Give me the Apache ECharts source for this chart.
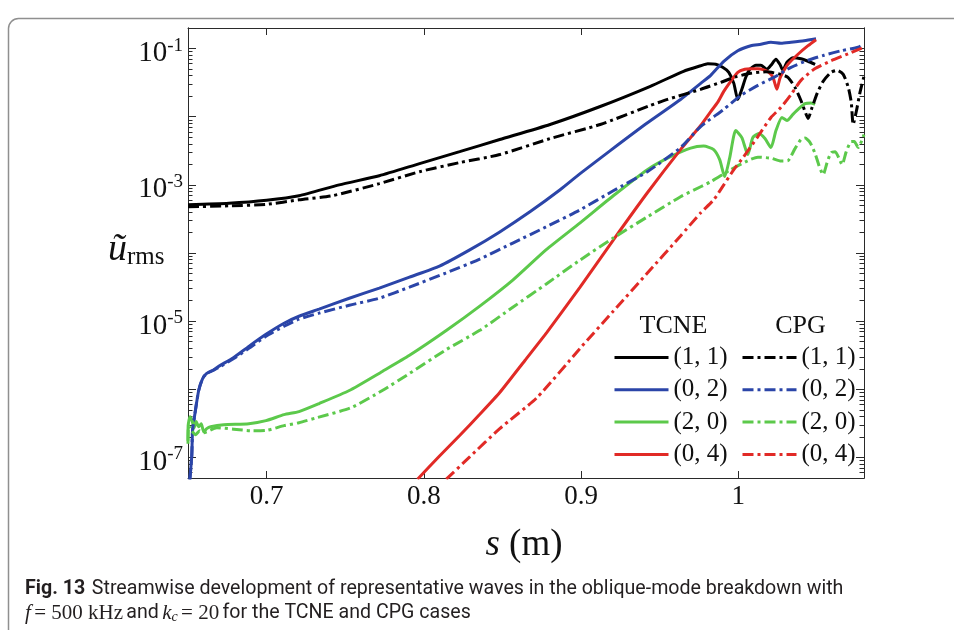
<!DOCTYPE html>
<html><head><meta charset="utf-8">
<script src="https://cdn.jsdelivr.net/npm/echarts@6/dist/echarts.min.js"></script>
<style>html,body{margin:0;padding:0;background:#fff}#c{width:954px;height:630px}</style>
</head><body><div id="c"></div>
<script>
// ---------- data (s in m, u_rms) ----------
const sTcne11 = [0.65,0.676,0.700,0.7206,0.7462,0.7717,0.7973,0.8228,0.8483,0.8803,0.9122,0.9441,0.9652,0.9761,0.9806,0.9857,0.9901,0.9940,0.9972,0.9997,1.0023,1.0048,1.0074,1.0112,1.0144,1.0182,1.0208,1.0240,1.0265,1.0284,1.0310,1.0348,1.0399,1.0444,1.0489];
const uTcne11 = [5.09e-4,5.36e-4,5.93e-4,6.91e-4,1.0e-3,1.36e-3,2.05e-3,3.07e-3,4.62e-3,7.68e-3,1.41e-2,2.79e-2,4.63e-2,5.58e-2,5.97e-2,5.87e-2,5.30e-2,4.48e-2,3.08e-2,1.79e-2,2.52e-2,3.78e-2,4.96e-2,5.68e-2,5.68e-2,4.96e-2,5.68e-2,6.96e-2,5.87e-2,4.79e-2,6.28e-2,7.32e-2,7.08e-2,6.50e-2,5.87e-2];

const sCpg11 = [0.65,0.676,0.700,0.7206,0.7417,0.7717,0.7973,0.8228,0.8483,0.8803,0.9122,0.9441,0.955,0.9761,0.9889,0.9984,1.0080,1.0176,1.0259,1.0316,1.0361,1.0399,1.0425,1.0444,1.0470,1.0502,1.0540,1.0591,1.0629,1.0668,1.0700,1.0719,1.0731,1.0751,1.0776,1.08];
const uCpg11 = [4.76e-4,4.92e-4,5.18e-4,6.03e-4,6.91e-4,1.04e-3,1.56e-3,2.12e-3,2.78e-3,4.77e-3,7.68e-3,1.46e-2,1.79e-2,2.52e-2,3.19e-2,3.84e-2,4.33e-2,4.55e-2,4.25e-2,3.78e-2,2.69e-2,1.73e-2,1.19e-2,9.41e-3,1.37e-2,2.20e-2,3.30e-2,4.48e-2,4.79e-2,4.18e-2,2.69e-2,1.62e-2,7.68e-3,1.19e-2,2.35e-2,3.91e-2];

const sTcne02 = [0.65,0.6512,0.6524,0.6529,0.6545,0.6568,0.6593,0.6619,0.6657,0.6695,0.6791,0.6887,0.6996,0.7111,0.7206,0.7334,0.7526,0.7717,0.7909,0.8100,0.8292,0.8483,0.8675,0.8867,0.8994,0.9186,0.9416,0.9633,0.9761,0.9825,0.9908,0.9997,1.0080,1.0144,1.0208,1.0272,1.0336,1.0419,1.0495];
const uTcne02 = [2.3e-8,4.85e-8,1.06e-7,2.47e-7,4.55e-7,9.6e-7,1.44e-6,1.71e-6,1.89e-6,2.17e-6,2.94e-6,4.27e-6,6.41e-6,9.31e-6,1.18e-5,1.50e-5,2.17e-5,3.05e-5,4.43e-5,6.43e-5,1.11e-4,2.04e-4,4.02e-4,8.47e-4,1.46e-3,3.18e-3,7.94e-3,1.79e-2,3.08e-2,4.04e-2,6.50e-2,9.28e-2,0.110,0.1157,0.1238,0.1197,0.1238,0.1302,0.1394];

const sCpg02 = [0.65,0.6512,0.6524,0.6529,0.6545,0.6568,0.6593,0.6619,0.6657,0.6695,0.6791,0.6887,0.6996,0.7111,0.7206,0.7334,0.7526,0.7717,0.7909,0.8139,0.8356,0.8566,0.8777,0.8994,0.9205,0.9422,0.9633,0.9761,0.9908,1.0016,1.0125,1.0227,1.0336,1.0444,1.0546,1.0655,1.0763,1.08];
const uCpg02 = [2.3e-8,4.85e-8,1.06e-7,2.47e-7,4.55e-7,9.6e-7,1.44e-6,1.71e-6,1.89e-6,2.09e-6,2.84e-6,3.99e-6,5.99e-6,8.41e-6,1.07e-5,1.31e-5,1.71e-5,2.17e-5,3.16e-5,5.07e-5,8.16e-5,1.40e-4,2.41e-4,4.30e-4,8.18e-4,1.56e-3,3.52e-3,7.17e-3,1.28e-2,2.05e-2,2.88e-2,3.78e-2,5.30e-2,6.73e-2,7.97e-2,9.28e-2,0.1045,0.1157];

const sTcne20 = [0.65,0.6501,0.6513,0.6526,0.6539,0.6552,0.6568,0.6584,0.6600,0.6619,0.6644,0.6727,0.6887,0.6996,0.7111,0.7206,0.7334,0.7526,0.7736,0.7909,0.8145,0.8356,0.8566,0.8777,0.8994,0.9205,0.9422,0.9569,0.9697,0.9780,0.9844,0.9882,0.9914,0.9946,0.9984,1.0023,1.0061,1.0093,1.0131,1.0170,1.0208,1.0240,1.0278,1.0310,1.0348,1.0387,1.0425,1.0463,1.0489];
const uTcne20 = [1.59e-7,2.93e-7,3.97e-7,3.47e-7,2.74e-7,3.36e-7,2.83e-7,3.13e-7,2.39e-7,2.65e-7,2.83e-7,3.03e-7,3.13e-7,3.47e-7,4.25e-7,4.71e-7,6.18e-7,9.60e-7,1.83e-6,3.15e-6,7.34e-6,1.66e-5,4.00e-5,1.11e-4,2.77e-4,6.91e-4,1.67e-3,2.59e-3,3.46e-3,3.70e-3,3.29e-3,2.34e-3,1.32e-3,2.51e-3,6.26e-3,4.94e-3,2.78e-3,4.94e-3,5.65e-3,4.77e-3,3.52e-3,6.26e-3,9.73e-3,8.79e-3,1.08e-2,1.32e-2,1.56e-2,1.59e-2,1.51e-2];

const sCpg20 = [0.65,0.6504,0.6523,0.6549,0.6574,0.6600,0.6683,0.6791,0.6900,0.7002,0.7111,0.7206,0.7321,0.7538,0.7736,0.7909,0.8145,0.8356,0.8566,0.8777,0.8994,0.9205,0.9422,0.9633,0.9761,0.9825,0.9952,1.0061,1.0125,1.0208,1.0272,1.0316,1.0361,1.0399,1.0425,1.0457,1.0489,1.0514,1.0540,1.0565,1.0591,1.0617,1.0642,1.0661,1.0687,1.0719,1.0738,1.0763,1.08];
const uCpg20 = [1.76e-7,2.93e-7,2.47e-7,2.16e-7,2.47e-7,2.31e-7,2.74e-7,2.60e-7,2.47e-7,2.51e-7,2.93e-7,3.24e-7,3.84e-7,5.39e-7,9.60e-7,1.71e-6,3.85e-6,7.34e-6,1.60e-5,3.49e-5,7.88e-5,1.66e-4,3.39e-4,6.68e-4,9.37e-4,1.11e-3,1.67e-3,2.26e-3,2.55e-3,2.46e-3,2.23e-3,2.26e-3,3.40e-3,4.62e-3,4.86e-3,4.17e-3,2.87e-3,1.91e-3,1.41e-3,2.12e-3,2.97e-3,3.07e-3,2.42e-3,1.98e-3,3.07e-3,4.31e-3,4.31e-3,3.52e-3,5.47e-3];

const sTcne04 = [0.7960,0.8100,0.8228,0.8356,0.8483,0.8643,0.8784,0.8994,0.9205,0.9422,0.9633,0.9761,0.9825,0.9869,0.9908,0.9952,0.9997,1.0042,1.0080,1.0125,1.0163,1.0195,1.0221,1.0246,1.0265,1.0291,1.0316,1.0380,1.0444,1.0495];
const uTcne04 = [4.80e-8,1.05e-7,2.10e-7,4.30e-7,8.97e-7,2.65e-6,6.90e-6,3.16e-5,1.55e-4,7.65e-4,3.29e-3,7.42e-3,1.19e-2,1.62e-2,2.35e-2,3.30e-2,4.48e-2,4.96e-2,5.04e-2,5.04e-2,4.87e-2,4.48e-2,3.78e-2,2.52e-2,3.65e-2,4.79e-2,5.87e-2,8.24e-2,0.110,0.1348];

const sCpg04 = [0.8143,0.8292,0.8483,0.8720,0.8994,0.9205,0.9422,0.9633,0.9761,0.9844,0.9908,0.9972,1.0035,1.0125,1.0208,1.0272,1.0336,1.0399,1.0482,1.0591,1.0700,1.08];
const uCpg04 = [4.80e-8,1.02e-7,2.65e-7,7.57e-7,3.99e-6,1.40e-5,5.07e-5,1.78e-4,3.88e-4,6.03e-4,1.00e-3,1.67e-3,2.59e-3,5.11e-3,9.73e-3,1.37e-2,2.12e-2,3.41e-2,4.96e-2,6.61e-2,8.38e-2,0.1045];

const modeLabels = ['(1, 1)', '(0, 2)', '(2, 0)', '(0, 4)'];
const modeColors = ['#000000', '#2b45a8', '#5cc94b', '#e12a26'];
const xTickValues = [0.7, 0.8, 0.9, 1.0];
const yLabelValues = [1e-7, 1e-5, 1e-3, 1e-1];
const yMajorTicks = [1e-7, 1e-6, 1e-5, 1e-4, 1e-3, 1e-2, 1e-1];
const xRange = [0.65, 1.08];
const yRange = [5e-8, 0.2];

// ---------- build ----------
const tcne = [[sTcne11,uTcne11],[sTcne02,uTcne02],[sTcne20,uTcne20],[sTcne04,uTcne04]];
const cpg  = [[sCpg11,uCpg11],[sCpg02,uCpg02],[sCpg20,uCpg20],[sCpg04,uCpg04]];
const pair = (s,u) => s.map((x,i)=>[x,u[i]]);
const yMinorTicks = [];
for (let k=-8;k<=-1;k++) for (let m=2;m<=9;m++){ const v=m*Math.pow(10,k); if (v>yRange[0] && v<yRange[1]) yMinorTicks.push(v); }

const series = [];
const dashDot = [11,4,3,4];
tcne.forEach((d,i)=>series.push({name:'TCNE '+modeLabels[i], type:'line', data:pair(d[0],d[1]), symbol:'none', smooth:0.2, lineStyle:{color:modeColors[i], width:3, type:'solid'}, itemStyle:{color:modeColors[i]}, z:3, animation:false}));
cpg.forEach((d,i)=>series.push({name:'CPG '+modeLabels[i], type:'line', data:pair(d[0],d[1]), symbol:'none', smooth:0.2, lineStyle:{color:modeColors[i], width:3, type:dashDot, cap:'butt'}, itemStyle:{color:modeColors[i]}, z:4, animation:false}));

const axisCol = '#2a2a2a';
const serif = 'Liberation Serif';
function yAx(pos, ticks, len, labels){
  return {type:'log', logBase:10, min:yRange[0], max:yRange[1], position:pos, gridIndex:0,
    axisLine:{show:true, lineStyle:{color:axisCol, width:1}},
    axisTick:{show:true, inside:true, length:len, customValues:ticks, lineStyle:{color:axisCol, width:1}},
    minorTick:{show:false}, splitLine:{show:false},
    axisLabel: labels ? {show:true, customValues:yLabelValues, margin:5,
      formatter:(v)=>'{b|10}{s|'+Math.round(Math.log10(v))+'}',
      rich:{b:{fontFamily:serif, fontSize:29, color:'#111', padding:[10,0,0,0]}, s:{fontFamily:serif, fontSize:19, color:'#111', padding:[0,0,6,0]}}} : {show:false}
  };
}
function xAx(pos, labels){
  return {type:'value', min:xRange[0], max:xRange[1], position:pos, gridIndex:0,
    axisLine:{show:true, onZero:false, lineStyle:{color:axisCol, width:1}},
    axisTick:{show:true, inside:true, length:7, customValues:xTickValues, lineStyle:{color:axisCol, width:1}},
    splitLine:{show:false},
    axisLabel: labels ? {show:true, customValues:xTickValues, margin:5, fontFamily:serif, fontSize:27, color:'#111',
      formatter:(v)=> (Math.abs(v-1)<1e-9 ? '1' : v.toFixed(1))} : {show:false}
  };
}

const legendCommon = {orient:'vertical', top:345, padding:0, itemWidth:54, itemHeight:20, itemGap:7.3, selectedMode:false,
  itemStyle:{opacity:0, borderWidth:0},
  lineStyle:{width:3},
  textStyle:{fontFamily:serif, fontSize:25, color:'#111', lineHeight:20},
  formatter:(n)=>n.replace(/^(TCNE|CPG) /,'')};

const option = {
  backgroundColor:'#ffffff',
  animation:false,
  grid:{left:188, top:28, width:676, height:450, containLabel:false},
  xAxis:[xAx('bottom', true), xAx('top', false)],
  yAxis:[yAx('left', yMajorTicks, 8, true), yAx('left', yMinorTicks, 4.5, false), yAx('right', yMajorTicks, 8, false), yAx('right', yMinorTicks, 4.5, false)],
  legend:[
    Object.assign({}, legendCommon, {left:613, data:series.slice(0,4).map(s=>s.name)}),
    Object.assign({}, legendCommon, {left:741, data:series.slice(4).map(s=>s.name)})
  ],
  series: series,
  graphic:[
    {type:'rect', shape:{x:8.5, y:18.5, width:1000, height:700, r:10}, style:{fill:'none', stroke:'#8f8f8f', lineWidth:1.5}, z:-1},
    {type:'text', x:673.5, y:326, style:{text:'TCNE', font:'26px "Liberation Serif"', fill:'#111', textAlign:'center', textVerticalAlign:'middle'}},
    {type:'text', x:800.5, y:326, style:{text:'CPG', font:'26px "Liberation Serif"', fill:'#111', textAlign:'center', textVerticalAlign:'middle'}},
    {type:'text', x:108, y:250, style:{text:'{u|ũ}{r|rms}', textVerticalAlign:'middle',
       rich:{u:{fontFamily:serif, fontStyle:'italic', fontSize:38, fill:'#111'}, r:{fontFamily:serif, fontSize:25, fill:'#111', padding:[14,0,0,0]}}}},
    {type:'text', x:524, y:545, style:{text:'{i|s}{n| (m)}', textAlign:'center', textVerticalAlign:'middle',
       rich:{i:{fontFamily:serif, fontStyle:'italic', fontSize:37, fill:'#111'}, n:{fontFamily:serif, fontSize:37, fill:'#111'}}}},
    {type:'text', x:25, y:589, style:{text:'{b|Fig. 13}  {n|Streamwise development of representative waves in the oblique-mode breakdown with}', textVerticalAlign:'middle',
       rich:{b:{fontFamily:'Roboto', fontWeight:'bold', fontSize:19.6, fill:'#231f20'}, n:{fontFamily:'Roboto', fontSize:19.6, fill:'#231f20'}}}},
    {type:'text', x:25, y:613, style:{text:'{fi|f} {m|= 500 kHz} {n|and} {fi|k}{sub|c} {m|= 20} {n|for the TCNE and CPG cases}', textVerticalAlign:'middle',
       rich:{fi:{fontFamily:serif, fontStyle:'italic', fontSize:21, fill:'#231f20'}, m:{fontFamily:serif, fontSize:21, fill:'#231f20'}, sub:{fontFamily:serif, fontStyle:'italic', fontSize:14, fill:'#231f20', padding:[8,0,0,0]}, n:{fontFamily:'Roboto', fontSize:19.6, fill:'#231f20'}}}}
  ]
};
const chart = echarts.init(document.getElementById('c'), null, {renderer:'canvas'});
chart.setOption(option);
</script>
</body></html>
